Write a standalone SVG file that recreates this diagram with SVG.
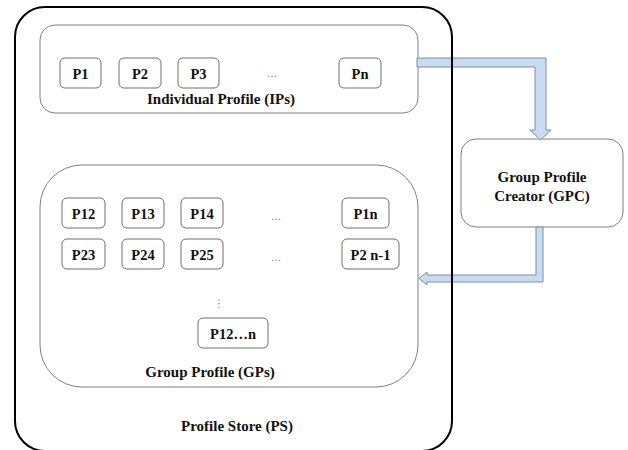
<svg xmlns="http://www.w3.org/2000/svg" width="628" height="450" viewBox="0 0 628 450">
  <style>
    .lbl { font-family: "Liberation Serif", "Times New Roman", serif; font-weight: bold; fill: #111; text-anchor: middle; }
    .pbox { fill: #fff; stroke: #6e6e6e; stroke-width: 1; }
    .grp { fill: #fff; stroke: #808080; stroke-width: 1; }
    .dots { font-family: "DejaVu Sans", sans-serif; fill: #777; text-anchor: middle; font-size: 10px; }
    .arrow { fill: #c8dbef; stroke: #7b8fa6; stroke-width: 1; stroke-linejoin: miter; }
  </style>
  <rect x="0" y="0" width="628" height="450" fill="#fff"/>

  <g id="ps">
    <rect x="15" y="7" width="437" height="444" rx="30" ry="30" fill="none" stroke="#000" stroke-width="2"/>
    <text class="lbl" x="237" y="431" font-size="15">Profile Store (PS)</text>
  </g>

  <g id="ips">
    <rect class="grp" x="40" y="25" width="378" height="88" rx="15" ry="15"/>
    <text class="lbl" x="221" y="104" font-size="15">Individual Profile (IPs)</text>
  </g>
  <g id="p1"><rect class="pbox" x="60" y="58" width="41" height="30" rx="5"/><text class="lbl" x="80.5" y="79" font-size="14.5">P1</text></g>
  <g id="p2"><rect class="pbox" x="119" y="58" width="42" height="30" rx="5"/><text class="lbl" x="140" y="79" font-size="14.5">P2</text></g>
  <g id="p3"><rect class="pbox" x="178" y="58" width="41" height="30" rx="5"/><text class="lbl" x="198.5" y="79" font-size="14.5">P3</text></g>
  <text class="dots" x="272" y="77">…</text>
  <g id="pn"><rect class="pbox" x="339" y="58" width="42" height="30" rx="5"/><text class="lbl" x="360" y="79" font-size="14.5">Pn</text></g>

  <g id="gps">
    <rect class="grp" x="40" y="165" width="378" height="222" rx="42" ry="42"/>
    <text class="lbl" x="210" y="377" font-size="15">Group Profile (GPs)</text>
  </g>
  <g id="p12"><rect class="pbox" x="62" y="198" width="43" height="30" rx="5"/><text class="lbl" x="83.5" y="219" font-size="14.5">P12</text></g>
  <g id="p13"><rect class="pbox" x="122" y="198" width="42" height="30" rx="5"/><text class="lbl" x="143" y="219" font-size="14.5">P13</text></g>
  <g id="p14"><rect class="pbox" x="181" y="198" width="42" height="30" rx="5"/><text class="lbl" x="202" y="219" font-size="14.5">P14</text></g>
  <text class="dots" x="276" y="220">…</text>
  <g id="p1n"><rect class="pbox" x="342" y="198" width="47" height="30" rx="5"/><text class="lbl" x="365.5" y="219" font-size="14.5">P1n</text></g>
  <g id="p23"><rect class="pbox" x="62" y="239" width="43" height="30" rx="5"/><text class="lbl" x="83.5" y="260" font-size="14.5">P23</text></g>
  <g id="p24"><rect class="pbox" x="122" y="239" width="42" height="30" rx="5"/><text class="lbl" x="143" y="260" font-size="14.5">P24</text></g>
  <g id="p25"><rect class="pbox" x="181" y="239" width="42" height="30" rx="5"/><text class="lbl" x="202" y="260" font-size="14.5">P25</text></g>
  <text class="dots" x="276" y="261">…</text>
  <g id="p2n1"><rect class="pbox" x="342" y="239" width="57" height="30" rx="5"/><text class="lbl" x="370.5" y="260" font-size="14.5">P2 n-1</text></g>
  <text class="dots" x="219" y="307">⋮</text>
  <g id="p12n"><rect class="pbox" x="198" y="318" width="70" height="30" rx="5"/><text class="lbl" x="233" y="339" font-size="14.5">P12…n</text></g>

  <g id="gpc">
    <rect class="grp" x="461" y="139" width="162" height="88" rx="15" ry="15"/>
    <text class="lbl" x="542" y="182" font-size="15">Group Profile</text>
    <text class="lbl" x="542" y="201" font-size="15">Creator (GPC)</text>
  </g>

  <g id="connectors">
    <polygon class="arrow" points="417,58 546,58 546,130 551,130 540.5,140 530,130 535,130 535,67 417,67"/>
    <polygon class="arrow" points="536,227 543,227 543,282 427,282 427,285 419,278.5 427,272 427,275 536,275"/>
  </g>
  <line x1="452" y1="50" x2="452" y2="300" stroke="#000" stroke-width="2"/>
</svg>
